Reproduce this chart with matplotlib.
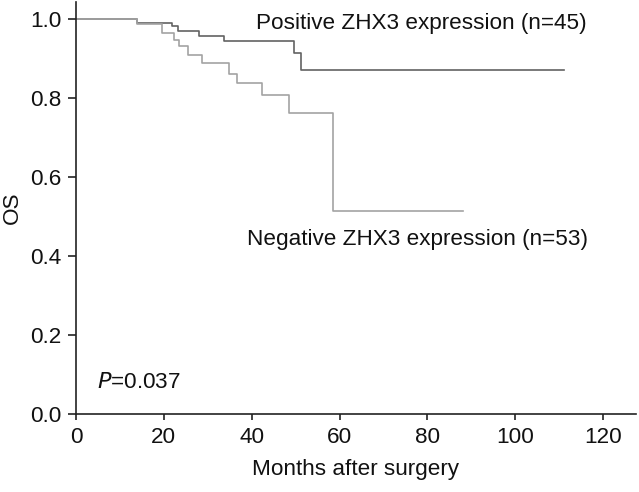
import matplotlib
matplotlib.use("Agg")
import matplotlib.pyplot as plt

plt.rcParams['font.family'] = ['Liberation Sans', 'DejaVu Sans']

# Positive ZHX3 expression (n=45): event times (months) and survival after each step
pos_times = [0, 13.9, 21.8, 23.3, 28.0, 33.6, 49.7, 51.2]
pos_surv = [1.0, 0.991, 0.983, 0.970, 0.958, 0.945, 0.914, 0.873]
pos_end = 111

# Negative ZHX3 expression (n=53)
neg_times = [0, 13.9, 19.5, 22.4, 23.5, 25.4, 28.8, 34.9, 36.6, 42.4, 48.5, 58.4]
neg_surv = [1.0, 0.988, 0.966, 0.949, 0.932, 0.910, 0.889, 0.863, 0.839, 0.808, 0.762, 0.514]
neg_end = 88

x_ticks = [0, 20, 40, 60, 80, 100, 120]
y_ticks = [0.0, 0.2, 0.4, 0.6, 0.8, 1.0]

FS = 16.2

fig = plt.figure(figsize=(6.39, 4.92), dpi=100)
ax = fig.add_axes([76/639, 1-414/492, (636-76)/639, (414-1.7)/492])

ax.step(pos_times + [pos_end], pos_surv + [pos_surv[-1]], where='post',
        color='#626262', lw=1.2)
ax.step(neg_times + [neg_end], neg_surv + [neg_surv[-1]], where='post',
        color='#a3a3a3', lw=1.2)

ax.set_xlim(0, 127.5)
ax.set_ylim(0, 1.045)
ax.set_xticks(x_ticks)
ax.set_yticks(y_ticks)
ax.set_yticklabels([f"{v:.1f}" for v in y_ticks])
for s in ['top', 'right']:
    ax.spines[s].set_visible(False)
for s in ['left', 'bottom']:
    ax.spines[s].set_linewidth(1.2)
    ax.spines[s].set_color('#222222')
ax.tick_params(direction='out', width=1.2, color='#222222',
               labelsize=FS, labelcolor='#111111')
ax.tick_params(axis='x', length=4.5, pad=5)
ax.tick_params(axis='y', length=5.5, pad=5)

ax.set_xlabel("Months after surgery", fontsize=FS, color='#111111', labelpad=8)
ax.set_ylabel("OS", fontsize=FS, color='#111111', labelpad=5)

ax.text(40.9, 0.977, "Positive ZHX3 expression (n=45)", fontsize=FS,
        color='#111111', va='baseline', ha='left')
ax.text(38.9, 0.428, "Negative ZHX3 expression (n=53)", fontsize=FS,
        color='#111111', va='baseline', ha='left')
ax.text(4.7, 0.066, "$\\mathit{P}$=0.037", fontsize=FS, color='#111111',
        va='baseline', ha='left')

fig.savefig("out.png", dpi=100)
